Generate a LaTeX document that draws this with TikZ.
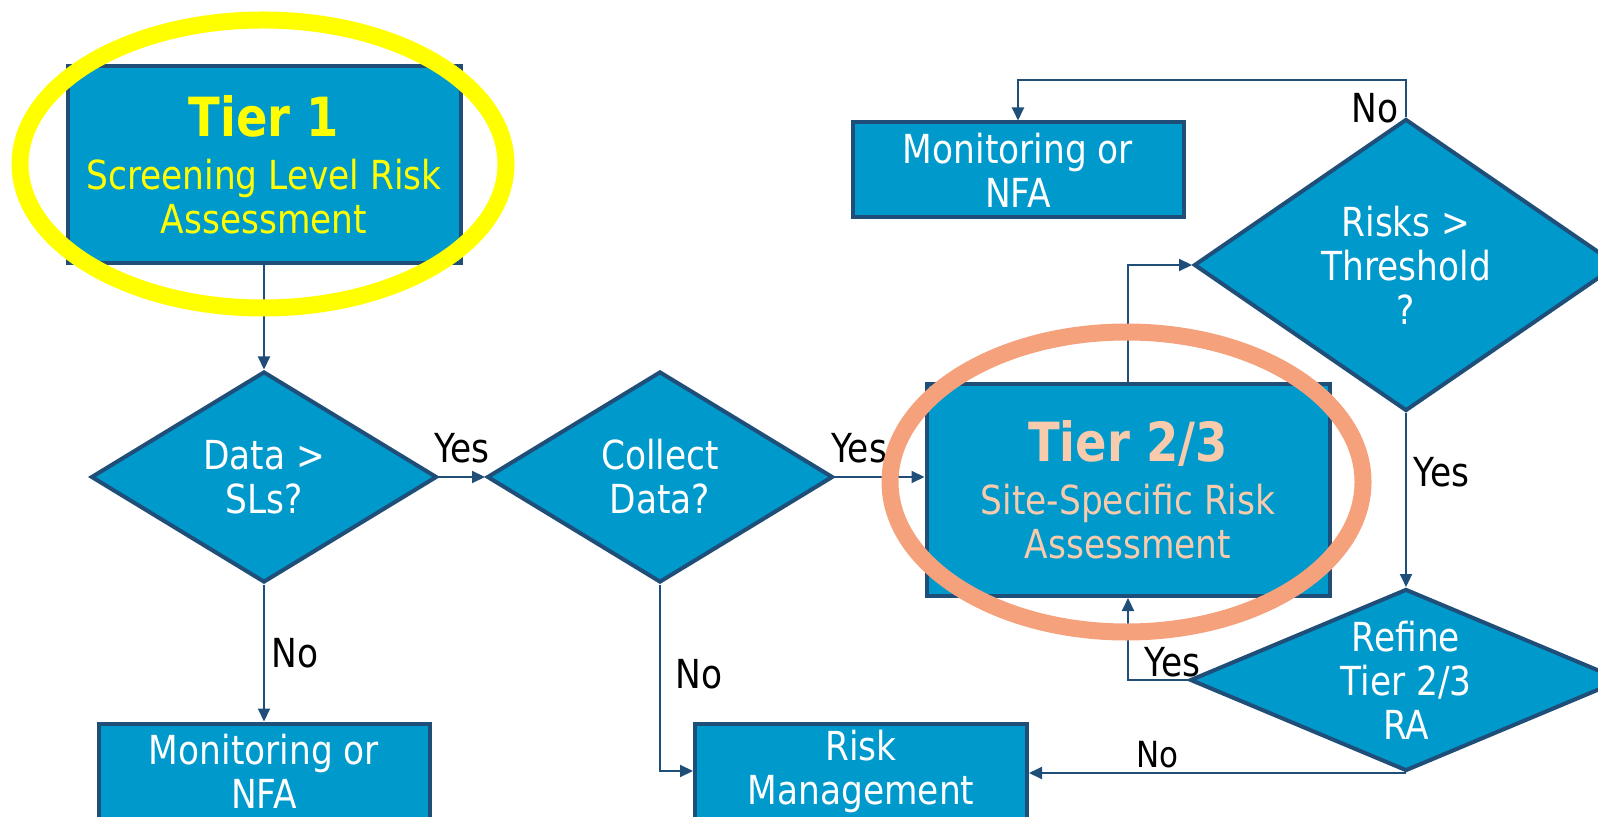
\documentclass[tikz,border=0pt]{standalone}
\usepackage{fontspec}
\setmainfont{DejaVu Sans}[FakeStretch=0.86]
\usepackage{tikz}
\usetikzlibrary{arrows.meta,positioning,shapes.geometric}
\definecolor{tierblue}{HTML}{0099CC}
\definecolor{edge}{HTML}{1F4E79}
\definecolor{tieryel}{HTML}{FFFF00}
\definecolor{peach}{HTML}{F8CBAD}
\definecolor{salmon}{HTML}{F4A17C}
\newcommand{\ttl}[1]{{\fontsize{27}{30}\selectfont\bfseries #1}}
\tikzset{
  box/.style={draw=edge,line width=2pt,fill=tierblue,text=white,align=center,inner sep=0pt,minimum width=166pt,minimum height=47.5pt,font=\fontsize{20}{22}\selectfont},
  dia/.style={draw=edge,line width=2pt,fill=tierblue,text=white,diamond,aspect=#1,align=center,inner sep=0pt,font=\fontsize{20}{22}\selectfont},
  arr/.style={-{Triangle[length=6.5pt,width=6pt]},draw=edge,line width=1pt},
  lbl/.style={font=\fontsize{20}{22}\selectfont,text=black},
  ring/.style={line width=8.5pt},
}
\begin{document}
\begin{tikzpicture}[x=0.5pt,y=-0.5pt]
 \useasboundingbox (0,0) rectangle (1598,817);
 \node[box,text=tieryel,minimum width=196.5pt,minimum height=98.5pt] (t1) at (264,165) {\ttl{Tier 1}\\[4.5pt]Screening Level Risk\\Assessment};
 \node[dia=1.65,minimum width=173pt,minimum height=105.5pt] (d1) at (264,477) {Data >\\SLs?};
 \node[dia=1.65,minimum width=173pt,minimum height=105.5pt] (d2) at (660,477) {Collect\\Data?};
 \node[box,text=peach,minimum width=201.5pt,minimum height=106pt] (t23) at (1128,490) {\ttl{Tier 2/3}\\[4.5pt]Site-Specific Risk\\Assessment};
 \node[box,minimum width=165.5pt] (mon2) at (1018,170) {Monitoring or\\NFA};
 \node[dia=1.45,minimum width=212pt,minimum height=146pt] (d3) at (1406,265) {Risks >\\Threshold\\?};
 \node[dia=2.35,minimum width=216pt,minimum height=91pt] (d4) at (1406,680) {Refine\\Tier 2/3\\RA};
 \node[box,minimum width=165.5pt] (mon1) at (264,771) {Monitoring or\\NFA};
 \node[box] (rm) at (861,771) {Risk\\Management};
 \draw[arr](t1.south)--(d1.north);
 \draw[arr](d1.east)--node[above=3pt,lbl]{Yes}(d2.west);
 \draw[arr](d2.east)--node[pos=0.27,above=3pt,lbl]{Yes}(d2.east-|t23.west);
 \draw[arr](d1.south)--node[right,lbl]{No}(mon1.north);
 \draw[arr](d2.south)|-node[pos=0.24,right,xshift=4pt,lbl]{No}(rm.west);
 \draw[arr](t23.north)|-(d3.west);
 \draw[arr](d3.north)--node[pos=0.25,left,lbl]{No}++(0,-37)-|(mon2.north);
 \draw[arr](d3.south)--node[pos=0.34,right,lbl]{Yes}(d4.north);
 \draw[arr](d4.west)-|node[pos=0.13,above,inner sep=1pt,lbl]{Yes}(t23.south);
 \draw[arr](d4.south)--node[pos=0.66,above,inner sep=2pt,lbl,font=\fontsize{18}{20}\selectfont]{No}(d4.south-|rm.east);
 \draw[ring,tieryel](263,164)ellipse[x radius=121.5pt,y radius=72pt];
 \draw[ring,salmon](1126.5,482)ellipse[x radius=118.25pt,y radius=75pt];
\end{tikzpicture}
\end{document}
